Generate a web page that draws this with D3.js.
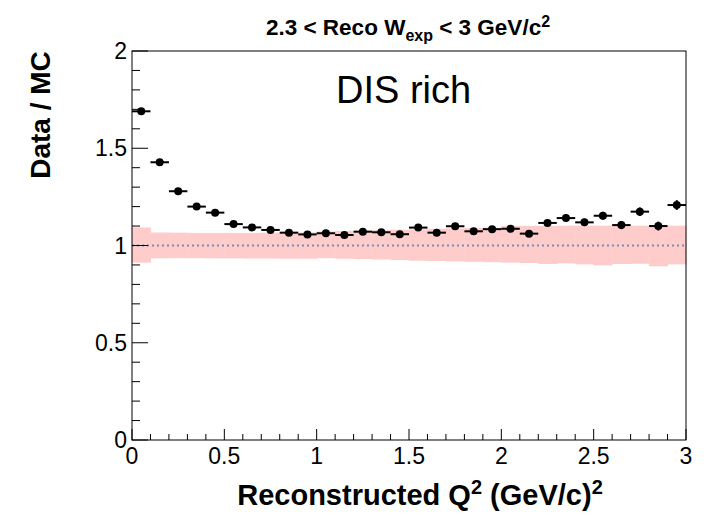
<!DOCTYPE html>
<html><head><meta charset="utf-8">
<script src="https://cdn.jsdelivr.net/npm/d3@7"></script>
<style>body{margin:0;background:#fff;} text{font-family:"Liberation Sans",Arial,sans-serif;}</style>
</head><body>
<svg id="c" width="708" height="515"></svg>
<script>
const binEdges = [0,0.1,0.2,0.3,0.4,0.5,0.6,0.7,0.8,0.9,1.0,1.1,1.2,1.3,1.4,1.5,1.6,1.7,1.8,1.9,2.0,2.1,2.2,2.3,2.4,2.5,2.6,2.7,2.8,2.9,3.0];
const ratio = [1.690,1.428,1.279,1.200,1.169,1.110,1.093,1.080,1.066,1.057,1.063,1.054,1.071,1.068,1.058,1.092,1.066,1.099,1.073,1.084,1.086,1.061,1.116,1.141,1.119,1.153,1.105,1.174,1.100,1.208];
const ratioErr = [0.008,0.007,0.007,0.007,0.008,0.008,0.008,0.009,0.009,0.010,0.010,0.011,0.011,0.012,0.012,0.013,0.013,0.014,0.014,0.015,0.015,0.016,0.017,0.018,0.019,0.020,0.021,0.022,0.023,0.025];
const bandHigh = [1.093,1.067,1.066,1.065,1.065,1.065,1.065,1.066,1.066,1.067,1.072,1.075,1.077,1.079,1.081,1.083,1.086,1.088,1.090,1.092,1.100,1.101,1.101,1.102,1.102,1.102,1.102,1.102,1.102,1.102];
const bandLow = [0.912,0.934,0.935,0.935,0.934,0.934,0.933,0.933,0.932,0.932,0.935,0.932,0.930,0.928,0.925,0.922,0.920,0.918,0.916,0.914,0.912,0.910,0.905,0.908,0.903,0.898,0.905,0.906,0.893,0.903];
const xTickLabels = ["0","0.5","1","1.5","2","2.5","3"];
const yTickLabels = ["0","0.5","1","1.5","2"];

const svg = d3.select("#c");
const L=132, R=686, T=51, B=440;
const x = d3.scaleLinear().domain([0,3]).range([L,R]);
const y = d3.scaleLinear().domain([0,2]).range([B,T]);

const bins = ratio.map((v,i)=>({lo:binEdges[i],hi:binEdges[i+1],v:v,e:ratioErr[i],bh:bandHigh[i],bl:bandLow[i]}));

// band
svg.append("g").selectAll("rect").data(bins).join("rect")
  .attr("x",d=>x(d.lo)).attr("width",d=>x(d.hi)-x(d.lo)+0.5)
  .attr("y",d=>y(d.bh)).attr("height",d=>y(d.bl)-y(d.bh))
  .attr("fill","#ffcccc");

// dotted line at 1
svg.append("line").attr("x1",x(0)).attr("x2",x(3)).attr("y1",y(1)).attr("y2",y(1))
  .attr("stroke","#7f8cab").attr("stroke-width",2).attr("stroke-dasharray","2,3");

// data points
const pts = svg.append("g");
pts.selectAll("line.h").data(bins).join("line").attr("class","h")
  .attr("x1",d=>x(d.lo)).attr("x2",d=>x(d.hi)).attr("y1",d=>y(d.v)).attr("y2",d=>y(d.v))
  .attr("stroke","#000").attr("stroke-width",2);
pts.selectAll("line.v").data(bins).join("line").attr("class","v")
  .attr("x1",d=>x((d.lo+d.hi)/2)).attr("x2",d=>x((d.lo+d.hi)/2)).attr("y1",d=>y(d.v-d.e)).attr("y2",d=>y(d.v+d.e))
  .attr("stroke","#000").attr("stroke-width",2);
pts.selectAll("circle").data(bins).join("circle")
  .attr("cx",d=>x((d.lo+d.hi)/2)).attr("cy",d=>y(d.v)).attr("r",4).attr("fill","#000");

// frame
svg.append("rect").attr("x",L).attr("y",T).attr("width",R-L).attr("height",B-T)
  .attr("fill","none").attr("stroke","#000").attr("stroke-width",1);

// axes
const xMinor = d3.range(0,31).map(i=>i/10);
const yMinor = d3.range(0,21).map(i=>i/10);
const ax = svg.append("g").attr("stroke","#000").attr("stroke-width",1);
ax.selectAll("line.xt").data(xMinor).join("line").attr("class","xt")
  .attr("x1",d=>x(d)).attr("x2",d=>x(d)).attr("y1",B)
  .attr("y2",(d,i)=> i%5===0 ? B-11 : B-6);
ax.selectAll("line.yt").data(yMinor).join("line").attr("class","yt")
  .attr("y1",d=>y(d)).attr("y2",d=>y(d)).attr("x1",L)
  .attr("x2",(d,i)=> i%5===0 ? L+16 : L+8);

svg.append("g").selectAll("text").data(xTickLabels).join("text")
  .attr("x",d=>x(+d)).attr("y",B+24).attr("text-anchor","middle")
  .attr("font-size",23).text(d=>d);
svg.append("g").selectAll("text").data(yTickLabels).join("text")
  .attr("x",L-5).attr("y",d=>y(+d)+8).attr("text-anchor","end")
  .attr("font-size",23).text(d=>d);

// titles
const t = svg.append("text").attr("x",408).attr("y",35).attr("text-anchor","middle")
  .attr("font-size",22.5).attr("font-weight","bold");
t.append("tspan").text("2.3 < Reco W");
t.append("tspan").attr("font-size",16).attr("dy",6).text("exp");
t.append("tspan").attr("dy",-6).text(" < 3 GeV/c");
t.append("tspan").attr("font-size",16).attr("dy",-8).text("2");

const xt = svg.append("text").attr("x",420).attr("y",505).attr("text-anchor","middle")
  .attr("font-size",29).attr("font-weight","bold");
xt.append("tspan").text("Reconstructed Q");
xt.append("tspan").attr("font-size",20).attr("dy",-11).text("2");
xt.append("tspan").attr("dy",11).text(" (GeV/c)");
xt.append("tspan").attr("font-size",20).attr("dy",-11).text("2");

svg.append("text").attr("transform","translate(50,115) rotate(-90)").attr("text-anchor","middle")
  .attr("font-size",28).attr("font-weight","bold").text("Data / MC");

svg.append("text").attr("x",336).attr("y",103).attr("font-size",38).text("DIS rich");
</script>
</body></html>
